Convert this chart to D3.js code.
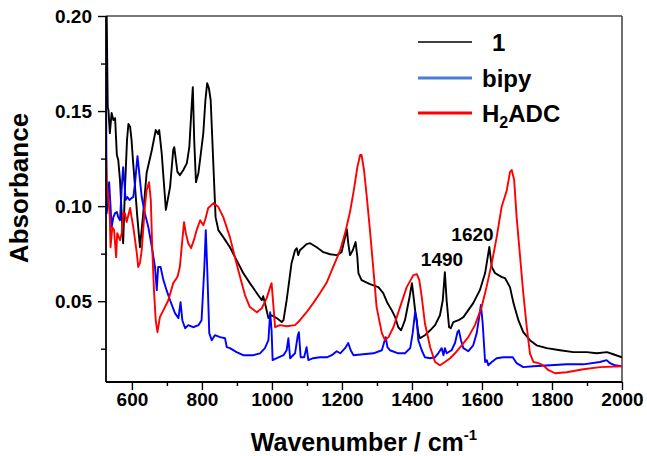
<!DOCTYPE html>
<html>
<head>
<meta charset="utf-8">
<script src="https://cdn.jsdelivr.net/npm/d3@7"></script>
<style>
  html, body { margin: 0; padding: 0; background: #fff; }
  svg { display: block; font-family: "Liberation Sans", Arial, sans-serif; }
</style>
</head>
<body>
<svg id="chart" width="647" height="456"></svg>
<script>
// ---------- data ----------
const xTicks = [600, 800, 1000, 1200, 1400, 1600, 1800, 2000];
const xMinorTicks = [700, 900, 1100, 1300, 1500, 1700, 1900];
const yTicks = [0.05, 0.10, 0.15, 0.20];
const yMinorTicks = [0.025, 0.075, 0.125, 0.175];
const seriesNames = ["1", "bipy", "H2ADC"];

// complex 1 (black)
const series1 = [[526,0.21],[528,0.2],[531,0.152],[533,0.1505],[537,0.1384],[542,0.149],[547,0.1453],[552,0.1463],[557,0.1269],[561,0.1242],[566,0.1137],[573,0.0874],[575,0.0805],[580,0.1084],[586,0.1347],[590,0.1432],[595,0.1416],[599,0.1347],[603,0.1242],[609,0.110],[615,0.0953],[623,0.0784],[632,0.0953],[642,0.1174],[657,0.1295],[668,0.14],[675,0.1379],[678,0.14],[685,0.128],[695,0.1032],[697,0.098],[709,0.110],[718,0.1295],[721,0.131],[730,0.118],[737,0.1163],[747,0.119],[757,0.1226],[764,0.131],[770,0.1505],[774,0.1626],[778,0.1347],[783,0.1126],[790,0.1174],[804,0.1384],[810,0.1558],[815,0.1647],[820,0.162],[825,0.1558],[833,0.1205],[839,0.0942],[847,0.0874],[861,0.0837],[880,0.0784],[899,0.0716],[918,0.0648],[937,0.0595],[957,0.0542],[971,0.0505],[975,0.0526],[980,0.049],[990,0.0411],[999,0.0426],[1014,0.0411],[1028,0.039],[1033,0.04],[1042,0.0505],[1047,0.0574],[1056,0.070],[1066,0.0768],[1071,0.0779],[1075,0.0742],[1080,0.0768],[1099,0.080],[1109,0.0805],[1128,0.0784],[1147,0.0758],[1166,0.0747],[1185,0.0742],[1199,0.0758],[1209,0.0837],[1214,0.0879],[1218,0.0805],[1223,0.0742],[1231,0.0768],[1239,0.0811],[1244,0.0732],[1247,0.0648],[1256,0.0611],[1280,0.059],[1304,0.0574],[1318,0.0542],[1330,0.049],[1342,0.0453],[1352,0.0416],[1361,0.0363],[1369,0.0347],[1380,0.04],[1393,0.0521],[1400,0.0595],[1409,0.0453],[1418,0.0332],[1423,0.0305],[1437,0.0321],[1452,0.0347],[1466,0.0374],[1480,0.0426],[1488,0.0505],[1494,0.0653],[1499,0.0505],[1506,0.0363],[1511,0.0358],[1518,0.039],[1533,0.04],[1547,0.0416],[1561,0.0453],[1575,0.049],[1594,0.0558],[1609,0.0648],[1615,0.0716],[1621,0.0785],[1628,0.068],[1637,0.0648],[1647,0.0637],[1657,0.0627],[1666,0.0621],[1680,0.0574],[1690,0.049],[1704,0.04],[1718,0.0337],[1737,0.0295],[1756,0.0268],[1785,0.0253],[1823,0.0242],[1861,0.0232],[1899,0.0232],[1928,0.0226],[1957,0.0232],[1975,0.0221],[2000,0.0205]];

// bipy (blue)
const seriesBipy = [[526,0.184],[527,0.13],[528,0.0963],[533,0.1084],[535,0.1126],[539,0.0995],[542,0.0889],[547,0.0942],[552,0.0963],[557,0.0969],[561,0.0942],[566,0.0926],[571,0.110],[575,0.1205],[578,0.1137],[582,0.1032],[587,0.1048],[593,0.1032],[599,0.1042],[604,0.1048],[609,0.1121],[614,0.1226],[616,0.1263],[621,0.1174],[628,0.1048],[637,0.0963],[647,0.0889],[657,0.0784],[666,0.068],[671,0.0558],[675,0.068],[682,0.068],[690,0.0611],[699,0.0558],[709,0.0505],[723,0.0437],[733,0.0411],[739,0.0495],[744,0.04],[752,0.0358],[761,0.0374],[775,0.0363],[790,0.0374],[799,0.04],[807,0.068],[811,0.0874],[815,0.068],[821,0.0332],[828,0.0295],[837,0.0321],[852,0.0311],[866,0.0305],[871,0.0258],[880,0.0253],[899,0.0232],[918,0.0216],[947,0.0216],[966,0.0226],[980,0.0253],[990,0.0295],[995,0.0442],[999,0.0347],[1002,0.019],[1014,0.02],[1033,0.0216],[1042,0.0242],[1047,0.0305],[1052,0.02],[1066,0.0226],[1074,0.0321],[1077,0.0337],[1082,0.0205],[1092,0.0205],[1099,0.0258],[1104,0.019],[1118,0.02],[1137,0.0205],[1157,0.0205],[1171,0.0216],[1185,0.0237],[1195,0.0226],[1209,0.0253],[1218,0.028],[1225,0.0242],[1233,0.0216],[1261,0.0221],[1290,0.0226],[1314,0.0242],[1320,0.028],[1325,0.0311],[1330,0.0258],[1337,0.0242],[1361,0.0226],[1380,0.0226],[1395,0.0253],[1402,0.0332],[1409,0.0442],[1414,0.04],[1418,0.0295],[1428,0.0242],[1437,0.0205],[1452,0.02],[1466,0.0205],[1475,0.0226],[1485,0.0253],[1490,0.0216],[1494,0.0253],[1499,0.0226],[1513,0.0242],[1523,0.028],[1530,0.0337],[1534,0.0347],[1540,0.0295],[1547,0.0253],[1561,0.0237],[1575,0.0268],[1585,0.0332],[1592,0.0416],[1597,0.048],[1602,0.0384],[1609,0.018],[1614,0.019],[1618,0.0163],[1628,0.018],[1642,0.02],[1661,0.0205],[1680,0.0205],[1688,0.0205],[1699,0.0174],[1718,0.0153],[1747,0.0158],[1795,0.0163],[1842,0.0168],[1890,0.0168],[1937,0.018],[1956,0.019],[1966,0.0174],[1980,0.0163],[2000,0.0158]];

// H2ADC (red)
const seriesH2ADC = [[526,0.128],[528,0.1137],[533,0.1032],[537,0.0942],[539,0.0784],[544,0.0889],[549,0.0874],[555,0.0732],[558,0.0858],[566,0.0821],[571,0.0858],[575,0.0963],[580,0.0963],[585,0.0916],[590,0.0953],[595,0.099],[599,0.0942],[604,0.0889],[614,0.0753],[618,0.068],[623,0.0701],[628,0.0768],[637,0.0995],[642,0.1084],[649,0.1126],[654,0.1032],[658,0.0784],[663,0.0558],[668,0.04],[673,0.0337],[680,0.0416],[690,0.0453],[704,0.0505],[718,0.0595],[730,0.0627],[737,0.068],[744,0.0821],[749,0.0916],[754,0.0858],[761,0.0805],[769,0.0779],[777,0.0821],[785,0.0874],[795,0.0926],[804,0.09],[809,0.0926],[818,0.099],[833,0.1016],[847,0.0995],[861,0.0942],[880,0.0837],[894,0.0732],[909,0.0627],[923,0.0532],[937,0.0469],[957,0.0442],[971,0.0463],[985,0.0516],[995,0.0574],[999,0.0595],[1004,0.048],[1009,0.0363],[1023,0.0374],[1042,0.0368],[1066,0.0374],[1080,0.04],[1099,0.0442],[1118,0.049],[1137,0.0542],[1157,0.06],[1175,0.068],[1195,0.0768],[1209,0.0858],[1223,0.0969],[1234,0.1084],[1244,0.1205],[1252,0.1269],[1256,0.1269],[1263,0.119],[1271,0.1048],[1280,0.0874],[1290,0.0663],[1299,0.0469],[1314,0.0332],[1323,0.0295],[1333,0.0311],[1347,0.0363],[1366,0.0469],[1385,0.0574],[1404,0.0637],[1414,0.0642],[1421,0.0611],[1428,0.0521],[1437,0.0384],[1452,0.0258],[1466,0.018],[1480,0.0163],[1494,0.018],[1509,0.02],[1523,0.0226],[1542,0.0268],[1561,0.0311],[1580,0.0374],[1599,0.0469],[1613,0.0574],[1628,0.07],[1642,0.0837],[1656,0.0995],[1671,0.1084],[1680,0.1179],[1685,0.119],[1692,0.1137],[1699,0.0942],[1709,0.0732],[1718,0.0542],[1728,0.0363],[1737,0.0226],[1747,0.018],[1761,0.0174],[1775,0.0163],[1790,0.0137],[1809,0.0121],[1842,0.0126],[1890,0.0142],[1937,0.0153],[2000,0.0158]];

const annotations = [{label: "1490", wn: 1490, a: 0.0653}, {label: "1620", wn: 1620, a: 0.0785}];

// ---------- chart ----------
const svg = d3.select("#chart");
const L = 106, R = 622, T = 16, B = 382;
const x = d3.scaleLinear().domain([526, 2000]).range([L, R]);
const y = d3.scaleLinear().domain([0.0075, 0.2]).range([B, T]);

svg.append("rect").attr("width", 647).attr("height", 456).attr("fill", "#fff");

svg.append("defs").append("clipPath").attr("id", "clip")
  .append("rect").attr("x", L).attr("y", T).attr("width", R - L).attr("height", B - T);

// frame top/right
svg.append("line").attr("x1", L).attr("x2", R).attr("y1", T).attr("y2", T)
  .attr("stroke", "#4a4a4a").attr("stroke-width", 1.6);
svg.append("line").attr("x1", R).attr("x2", R).attr("y1", T).attr("y2", B)
  .attr("stroke", "#4a4a4a").attr("stroke-width", 1.6);

const line = d3.line().x(d => x(d[0])).y(d => y(d[1]));
const plot = svg.append("g").attr("clip-path", "url(#clip)");
const seriesData = [
  {name: seriesNames[0], data: series1, color: "#000000"},
  {name: seriesNames[1], data: seriesBipy, color: "#0000ff"},
  {name: seriesNames[2], data: seriesH2ADC, color: "#ff0000"}
];
seriesData.forEach(s => {
  plot.append("path").datum(s.data).attr("d", line)
    .attr("fill", "none").attr("stroke", s.color).attr("stroke-width", 1.9)
    .attr("stroke-linejoin", "round");
});

// axes
const fontTick = "bold 19px 'Liberation Sans', Arial, sans-serif";
const xAxis = svg.append("g").attr("transform", `translate(0,${B})`)
  .call(d3.axisBottom(x).tickValues(xTicks).tickSize(8).tickPadding(3).tickFormat(d3.format("d")));
svg.append("g").attr("transform", `translate(0,${B})`)
  .call(d3.axisBottom(x).tickValues(xMinorTicks).tickSize(4).tickFormat(""))
  .select(".domain").remove();
const yAxis = svg.append("g").attr("transform", `translate(${L},0)`)
  .call(d3.axisLeft(y).tickValues(yTicks).tickSize(8).tickPadding(6).tickFormat(d3.format(".2f")));
svg.append("g").attr("transform", `translate(${L},0)`)
  .call(d3.axisLeft(y).tickValues(yMinorTicks).tickSize(5).tickFormat(""))
  .select(".domain").remove();
svg.selectAll(".domain").attr("stroke", "#000").attr("stroke-width", 1.8);
svg.selectAll(".tick line").attr("stroke", "#000").attr("stroke-width", 1.4);
svg.selectAll(".tick text").style("font", fontTick).attr("fill", "#000");
xAxis.selectAll(".domain").attr("d", `M${L},0H${R}`);
yAxis.selectAll(".domain").attr("d", `M0,${B}V${T}`);

// axis titles
const xt = svg.append("text").attr("x", 364).attr("y", 451).attr("text-anchor", "middle")
  .style("font", "bold 25px 'Liberation Sans', Arial, sans-serif");
xt.append("tspan").text("Wavenumber / cm");
xt.append("tspan").attr("dy", -11).style("font-size", "15px").text("-1");

svg.append("text").attr("transform", "translate(28,188) rotate(-90)").attr("text-anchor", "middle")
  .style("font", "bold 26px 'Liberation Sans', Arial, sans-serif").text("Absorbance");

// annotations
svg.append("text").attr("x", 442).attr("y", 266).attr("text-anchor", "middle")
  .style("font", fontTick).text(annotations[0].label);
svg.append("text").attr("x", 472.5).attr("y", 241).attr("text-anchor", "middle")
  .style("font", fontTick).text(annotations[1].label);

// legend
const legend = [
  {label: "1", color: "#000", w: 1.6, y: 42, tx: 492},
  {label: "bipy", color: "#4a7fd6", w: 3, y: 78, tx: 482},
  {label: "H2ADC", color: "#ff0000", w: 3, y: 113, tx: 482}
];
legend.forEach((d, i) => {
  svg.append("line").attr("x1", 418).attr("x2", 472).attr("y1", d.y).attr("y2", d.y)
    .attr("stroke", d.color).attr("stroke-width", d.w);
  const t = svg.append("text").attr("x", d.tx).attr("y", d.y + 9)
    .style("font", "bold 24px 'Liberation Sans', Arial, sans-serif");
  if (i === 2) {
    t.append("tspan").text("H");
    t.append("tspan").attr("dy", 6).style("font-size", "16px").text("2");
    t.append("tspan").attr("dy", -6).text("ADC");
  } else {
    t.text(d.label);
  }
});
</script>
</body>
</html>
